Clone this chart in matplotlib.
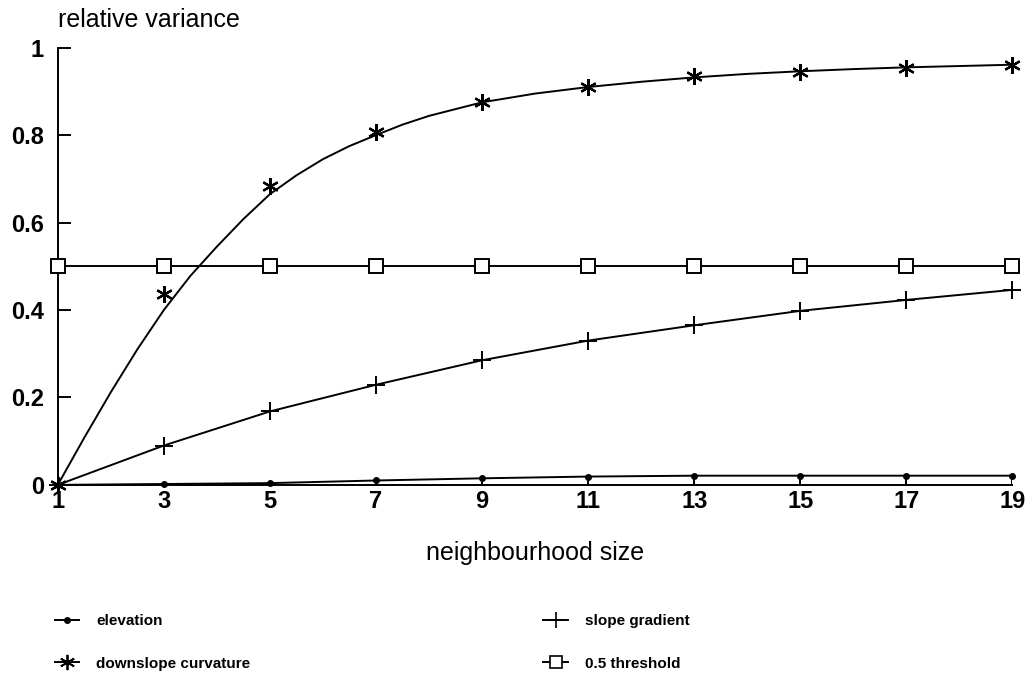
import matplotlib
matplotlib.use("Agg")
import matplotlib.pyplot as plt
from matplotlib.lines import Line2D

plt.rcParams['font.family'] = ['Liberation Sans', 'DejaVu Sans']

# neighbourhood sizes (odd window widths)
sizes = [1, 3, 5, 7, 9, 11, 13, 15, 17, 19]

elevation = [0.0, 0.002, 0.004, 0.010, 0.015, 0.019, 0.021, 0.021, 0.021, 0.021]
slope_gradient = [0.0, 0.090, 0.168, 0.229, 0.285, 0.330, 0.365, 0.398, 0.423, 0.446]
curvature = [0.0, 0.437, 0.684, 0.808, 0.875, 0.910, 0.935, 0.945, 0.954, 0.961]
threshold = [0.5, 0.5, 0.5, 0.5, 0.5, 0.5, 0.5, 0.5, 0.5, 0.5]

# fitted curve for downslope curvature
fit_x = [1, 1.5, 2, 2.5, 3, 3.5, 4, 4.5, 5, 5.5, 6, 6.5, 7, 7.5, 8, 9, 10,
         11, 12, 13, 14, 15, 16, 17, 18, 19]
fit_y = [0.0, 0.108, 0.212, 0.31, 0.40, 0.478, 0.545, 0.608, 0.665, 0.708,
         0.745, 0.775, 0.80, 0.824, 0.844, 0.875, 0.895, 0.91, 0.922, 0.932,
         0.940, 0.946, 0.951, 0.955, 0.958, 0.961]

fig = plt.figure(figsize=(10.32, 6.81), dpi=100)
ax = fig.add_axes([0.056, 0.288, 0.925, 0.642])

lw = 1.4
ax.plot(fit_x, fit_y, color='black', lw=lw)
ax.plot(sizes, curvature, linestyle='none', marker=(6, 2, 0), markersize=12,
        markeredgewidth=1.6, color='black', clip_on=False, zorder=5)
ax.plot(sizes, threshold, color='black', lw=lw, marker='s', markersize=10,
        markerfacecolor='white', markeredgewidth=1.4, clip_on=False, zorder=4)
ax.plot(sizes, slope_gradient, color='black', lw=lw, marker='+', markersize=13,
        markeredgewidth=1.4, clip_on=False)
ax.plot(sizes, elevation, color='black', lw=lw, marker='o', markersize=4,
        clip_on=False)
ax.vlines(sizes, 0, elevation, color='black', lw=lw)

ax.set_xlim(1, 19)
ax.set_ylim(0, 1)
ax.set_xticks(sizes)
ax.set_yticks([0, 0.2, 0.4, 0.6, 0.8, 1])
ax.set_yticklabels(['0', '0.2', '0.4', '0.6', '0.8', '1'])
ax.tick_params(axis='x', length=0, pad=4, labelsize=17)
ax.tick_params(axis='y', direction='in', length=9, width=1.4, pad=10, labelsize=17)
for lab in ax.get_xticklabels() + ax.get_yticklabels():
    lab.set_fontweight('bold')

for s in ['top', 'right']:
    ax.spines[s].set_visible(False)
ax.spines['left'].set_linewidth(1.4)
ax.spines['bottom'].set_linewidth(1.4)

ax.set_xlabel('neighbourhood size', fontsize=18, labelpad=20)
ax.text(0.0, 1.035, 'relative variance', transform=ax.transAxes, fontsize=18,
        ha='left', va='bottom')

handles = [
    Line2D([], [], color='black', lw=lw, marker='o', markersize=4),
    Line2D([], [], color='black', lw=lw, marker=(6, 2, 0), markersize=11, markeredgewidth=1.3),
    Line2D([], [], color='black', lw=lw, marker='+', markersize=12, markeredgewidth=1.2),
    Line2D([], [], color='black', lw=lw, marker='s', markersize=8,
           markerfacecolor='white', markeredgewidth=1.2),
]
labels = ['elevation', 'downslope curvature', 'slope gradient', '0.5 threshold']
fig.legend(handles, labels, ncol=2, loc='upper left', bbox_to_anchor=(0.053, 0.098),
           frameon=False, borderpad=0, borderaxespad=0, handlelength=1.6,
           handletextpad=1.1, columnspacing=19.2, labelspacing=1.85,
           prop={'size': 11, 'weight': 'bold'})

fig.savefig('out.png', dpi=100)
